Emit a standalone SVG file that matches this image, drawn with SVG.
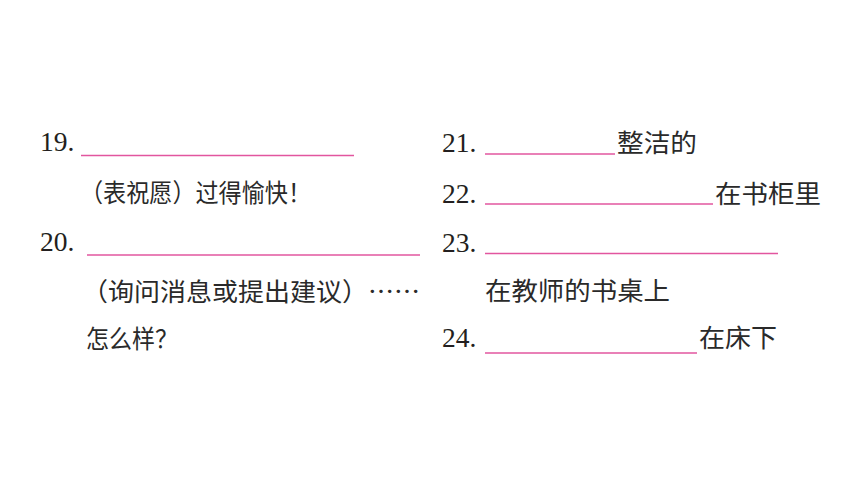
<svg xmlns="http://www.w3.org/2000/svg" width="860" height="484" viewBox="0 0 860 484">
<style>
.num{font-family:"Liberation Serif","Times New Roman",serif;font-size:27.5px;fill:#231f20}
.cn{font-family:"Noto Sans CJK SC","Noto Sans",sans-serif;font-size:25.5px;fill:#2a2a2a}
.blank{stroke:#e2569f;stroke-width:1.4;fill:none}
</style>
<rect width="860" height="484" fill="#ffffff"/>
<g id="q19">
<text class="num" x="40" y="151">19.</text>
<line class="blank" x1="81" y1="155.5" x2="354" y2="155.5"/>
<text class="cn" x="80" y="202" textLength="231" lengthAdjust="spacingAndGlyphs">（表祝愿）过得愉快！</text>
</g>
<g id="q20">
<text class="num" x="40" y="251">20.</text>
<line class="blank" x1="87" y1="255" x2="420" y2="255"/>
<text class="cn" x="82" y="301" textLength="338" lengthAdjust="spacingAndGlyphs">（询问消息或提出建议）……</text>
<text class="cn" x="86" y="348" textLength="92" lengthAdjust="spacingAndGlyphs">怎么样？</text>
</g>
<g id="q21">
<text class="num" x="442" y="152">21.</text>
<line class="blank" x1="485" y1="154" x2="615" y2="154"/>
<text class="cn" x="617" y="152" textLength="80" lengthAdjust="spacingAndGlyphs">整洁的</text>
</g>
<g id="q22">
<text class="num" x="442" y="203">22.</text>
<line class="blank" x1="485" y1="204" x2="713" y2="204"/>
<text class="cn" x="715" y="203" textLength="106" lengthAdjust="spacingAndGlyphs">在书柜里</text>
</g>
<g id="q23">
<text class="num" x="442" y="252">23.</text>
<line class="blank" x1="485" y1="253.5" x2="778" y2="253.5"/>
<text class="cn" x="485" y="300" textLength="185" lengthAdjust="spacingAndGlyphs">在教师的书桌上</text>
</g>
<g id="q24">
<text class="num" x="442" y="347">24.</text>
<line class="blank" x1="485" y1="353" x2="697" y2="353"/>
<text class="cn" x="699" y="347" textLength="78" lengthAdjust="spacingAndGlyphs">在床下</text>
</g>
</svg>
